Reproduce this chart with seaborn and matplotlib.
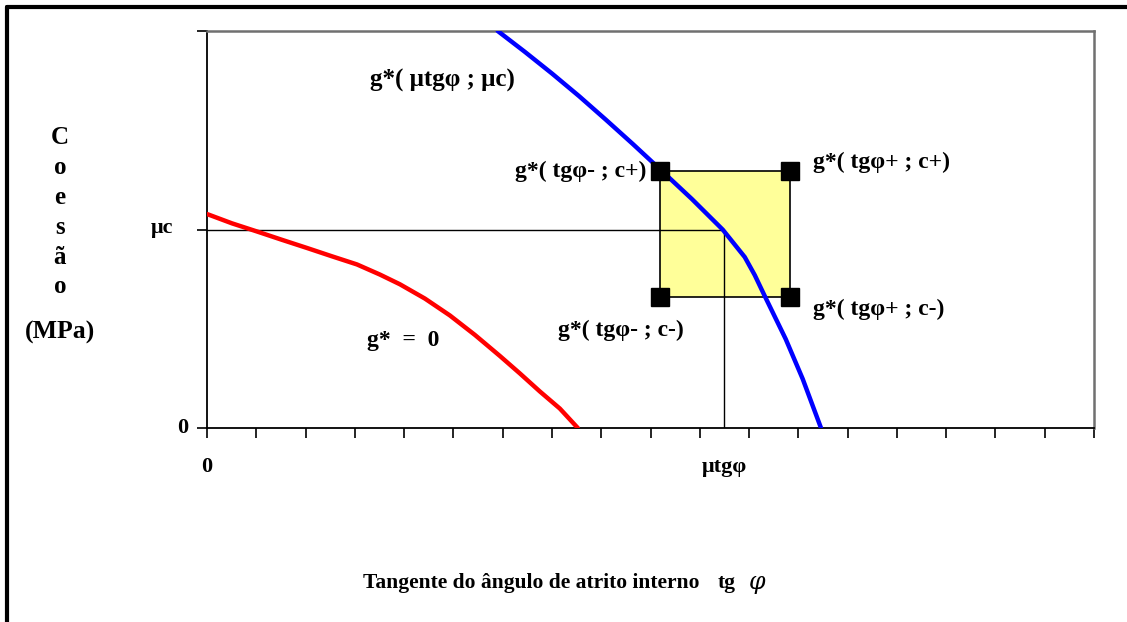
import matplotlib
matplotlib.use("Agg")
import matplotlib.pyplot as plt
import numpy as np
import pandas as pd
import seaborn as sns
from matplotlib.lines import Line2D
from matplotlib.patches import Rectangle

# Limit-state curve g* = 0 (red)
red_x = [0.0, 0.507, 1.014, 1.521, 2.028, 2.535, 3.043, 3.509, 3.915, 4.422,
         4.929, 5.436, 5.943, 6.349, 6.755, 7.160, 7.525]
red_y = [1.078, 1.031, 0.990, 0.948, 0.907, 0.865, 0.824, 0.773, 0.724, 0.652,
         0.567, 0.469, 0.363, 0.275, 0.184, 0.098, 0.0]

# Shifted limit-state curve through the mean point (blue)
blue_x = [5.90, 6.45, 7.00, 7.55, 8.09, 8.64, 9.209, 9.838, 10.467, 10.913,
          11.116, 11.318, 11.744, 12.089, 12.46]
blue_y = [2.0, 1.895, 1.786, 1.672, 1.554, 1.431, 1.300, 1.154, 0.999, 0.861,
          0.770, 0.665, 0.448, 0.247, 0.0]

# Mean values and the box of +/- variations
mu_tg = 10.5
mu_c = 1.0
tg_minus, tg_plus = 9.19, 11.83
c_minus, c_plus = 0.66, 1.296

corner_x = [tg_minus, tg_plus, tg_minus, tg_plus]
corner_y = [c_plus, c_plus, c_minus, c_minus]

x_ticks = list(range(0, 19))
y_ticks = [0, 1, 2]

sns.set_style("white")
plt.rcParams["font.family"] = ["Liberation Serif", "DejaVu Serif"]
plt.rcParams["font.weight"] = "bold"
plt.rcParams["text.color"] = "black"
plt.rcParams["axes.labelcolor"] = "black"
plt.rcParams["xtick.color"] = "black"
plt.rcParams["ytick.color"] = "black"

W, H = 1127, 622
fig = plt.figure(figsize=(W / 100, H / 100), dpi=100)
ax = fig.add_axes([207 / W, 1 - 428 / H, (1094 - 207) / W, (428 - 31) / H])

red_df = pd.DataFrame({"x": red_x, "y": red_y})
blue_df = pd.DataFrame({"x": blue_x, "y": blue_y})

# Box between the four corner points
ax.add_patch(Rectangle((tg_minus, c_minus), tg_plus - tg_minus, c_plus - c_minus,
                       facecolor="#FFFF99", edgecolor="black", linewidth=1.2, zorder=1))

# Guide lines to the mean point
ax.plot([0, mu_tg], [mu_c, mu_c], color="black", linewidth=1.0, zorder=2)
ax.plot([mu_tg, mu_tg], [0, mu_c], color="black", linewidth=1.0, zorder=2)

sns.lineplot(data=red_df, x="x", y="y", sort=False, color="#FF0000", linewidth=3.2, ax=ax, zorder=3)
sns.lineplot(data=blue_df, x="x", y="y", sort=False, color="#0000FF", linewidth=3.2, ax=ax, zorder=3)

ax.plot(corner_x, corner_y, linestyle="none", marker="s", markersize=13,
        color="black", zorder=4, clip_on=False)

ax.set_xlim(0, 18)
ax.set_ylim(0, 2)
ax.set_xlabel("")
ax.set_ylabel("")

for side in ["left", "bottom"]:
    ax.spines[side].set_color("black")
    ax.spines[side].set_linewidth(1.3)
for side in ["top", "right"]:
    ax.spines[side].set_color("#707070")
    ax.spines[side].set_linewidth(1.8)

ax.set_xticks(x_ticks, labels=["0"] + [""] * (len(x_ticks) - 1))
ax.set_xticks([mu_tg], labels=["μtgφ"], minor=True)
ax.set_yticks(y_ticks, labels=[""] * len(y_ticks))
ax.tick_params(axis="x", which="major", bottom=True, direction="out", length=7, width=1.2,
               color="black", pad=14, labelsize=16)
ax.tick_params(axis="x", which="minor", bottom=True, length=0, pad=21, labelsize=16)
ax.tick_params(axis="y", which="major", left=True, direction="out", length=7, width=1.2,
               color="black", labelsize=16)
for lab in ax.get_xticklabels() + ax.get_xticklabels(minor=True):
    lab.set_fontweight("bold")

ann = dict(xycoords=("axes fraction", "data"), textcoords="offset pixels",
           ha="right", va="center", fontsize=16, fontweight="bold")
ax.annotate("0", xy=(0, 0), xytext=(-19, 0), **ann)
ax.annotate("μc", xy=(0, mu_c), xytext=(-34, 2), **ann)

lab_kw = dict(fontsize=17, fontweight="bold", color="black", va="center")
ax.text(4.77, 1.753, "g*( μtgφ ; μc)", ha="center", fontsize=18, fontweight="bold",
        color="black", va="center")
ax.text(8.92, 1.295, "g*( tgφ- ; c+)", ha="right", **lab_kw)
ax.text(12.29, 1.34, "g*( tgφ+ ; c+)", ha="left", **lab_kw)
ax.text(12.29, 0.595, "g*( tgφ+ ; c-)", ha="left", **lab_kw)
ax.text(8.4, 0.494, "g*( tgφ- ; c-)", ha="center", **lab_kw)
ax.text(3.98, 0.443, "g*  =  0", ha="center", **lab_kw)

# Vertical y-axis title, one letter per line
for i, ch in enumerate(["C", "o", "e", "s", "ã", "o"]):
    fig.text(60 / W, 1 - (137 + 30 * i) / H, ch, ha="center", va="center",
             fontsize=18, fontweight="bold")
fig.text(60 / W, 1 - 332 / H, "(MPa)", ha="center", va="center",
         fontsize=18.5, fontweight="bold")

# x-axis title
fig.text(363 / W, 1 - 583 / H, "Tangente do ângulo de atrito interno", ha="left",
         va="center", fontsize=15.5, fontweight="bold")
fig.text(718 / W, 1 - 583 / H, "tg", ha="left", va="center", fontsize=15.5, fontweight="bold")
fig.text(749 / W, 1 - 582 / H, "φ", ha="left", va="center", fontsize=17,
         style="italic", fontweight="normal", family=["DejaVu Serif"])

# Outer frame (left and top edges)
fig.add_artist(Line2D([7 / W, 7 / W], [0, 1 - 7 / H], color="black", linewidth=3,
                      transform=fig.transFigure))
fig.add_artist(Line2D([7 / W, 1], [1 - 7 / H, 1 - 7 / H], color="black", linewidth=3,
                      transform=fig.transFigure))

fig.savefig("out.png", dpi=100, facecolor="white")
